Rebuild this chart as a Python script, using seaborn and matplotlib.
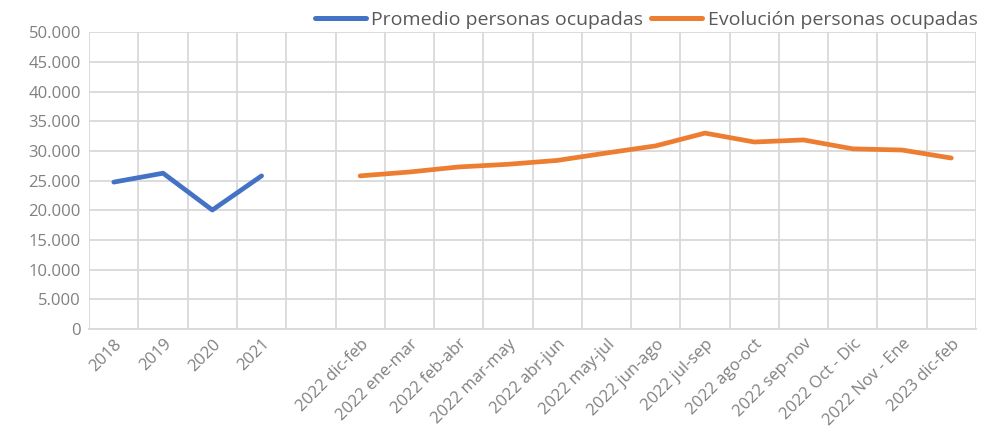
import numpy as np
import pandas as pd
import matplotlib
matplotlib.use("Agg")
import matplotlib.pyplot as plt
import seaborn as sns
from matplotlib.ticker import FuncFormatter, MultipleLocator

# Categories (one blank slot between the yearly and the 2022 series)
categories = ["2018", "2019", "2020", "2021", "",
              "2022 dic-feb", "2022 ene-mar", "2022 feb-abr", "2022 mar-may",
              "2022 abr-jun", "2022 may-jul", "2022 jun-ago", "2022 jul-sep",
              "2022 ago-oct", "2022 sep-nov", "2022 Oct - Dic", "2022 Nov - Ene",
              "2023 dic-feb"]

promedio = [24750, 26250, 20050, 25800]
evolucion = [25800, 26450, 27300, 27750, 28400, 29650, 30850,
             33000, 31500, 31850, 30350, 30150, 28800]

promedio_label = "Promedio personas ocupadas"
evolucion_label = "Evolución personas ocupadas"

sns.set_style("white")
plt.rcParams["font.family"] = ["Open Sans", "DejaVu Sans"]

df = pd.concat([
    pd.DataFrame({"x": np.arange(len(promedio)), "valor": promedio,
                  "serie": promedio_label}),
    pd.DataFrame({"x": np.arange(len(evolucion)) + 5, "valor": evolucion,
                  "serie": evolucion_label}),
])

fig, ax = plt.subplots(figsize=(10.02, 4.40), dpi=100)
fig.subplots_adjust(left=0.089, right=0.974, top=0.927, bottom=0.252)

sns.lineplot(data=df, x="x", y="valor", hue="serie",
             palette=["#4472C4", "#ED7D31"], linewidth=3.4, ax=ax,
             legend=False, solid_capstyle="round", solid_joinstyle="round")

ax.set_xlim(-0.5, len(categories) - 0.5)
ax.set_ylim(0, 50000)
ax.yaxis.set_major_locator(MultipleLocator(5000))
ax.yaxis.set_major_formatter(FuncFormatter(lambda v, p: f"{int(v):,}".replace(",", ".")))
ax.set_xticks(np.arange(len(categories)))
ax.set_xticklabels(categories, rotation=45, ha="right", rotation_mode="anchor")
ax.set_xticks(np.arange(len(categories) + 1) - 0.5, minor=True)

ax.grid(False)
ax.grid(True, axis="y", which="major", color="#d9d9d9", linewidth=1.3)
ax.grid(True, axis="x", which="minor", color="#d9d9d9", linewidth=1.3)
ax.set_axisbelow(True)
for s in ["top", "right", "left"]:
    ax.spines[s].set_visible(False)
ax.spines["bottom"].set_color("#d9d9d9")
ax.spines["bottom"].set_linewidth(1.3)

ax.tick_params(axis="both", which="both", length=0, labelsize=12, colors="#808080")
ax.tick_params(axis="x", pad=5)
ax.tick_params(axis="y", pad=6)
ax.set_xlabel("")
ax.set_ylabel("")

handles = [plt.Line2D([], [], color="#4472C4", linewidth=3.6, solid_capstyle="round"),
           plt.Line2D([], [], color="#ED7D31", linewidth=3.6, solid_capstyle="round")]
fig.legend(handles, [promedio_label, evolucion_label], loc="upper right",
           bbox_to_anchor=(0.993, 1.015), ncol=2, frameon=False, fontsize=14,
           handlelength=2.6, handletextpad=0.3, columnspacing=0.4,
           labelcolor="#595959")

fig.savefig("out.png", dpi=100)
